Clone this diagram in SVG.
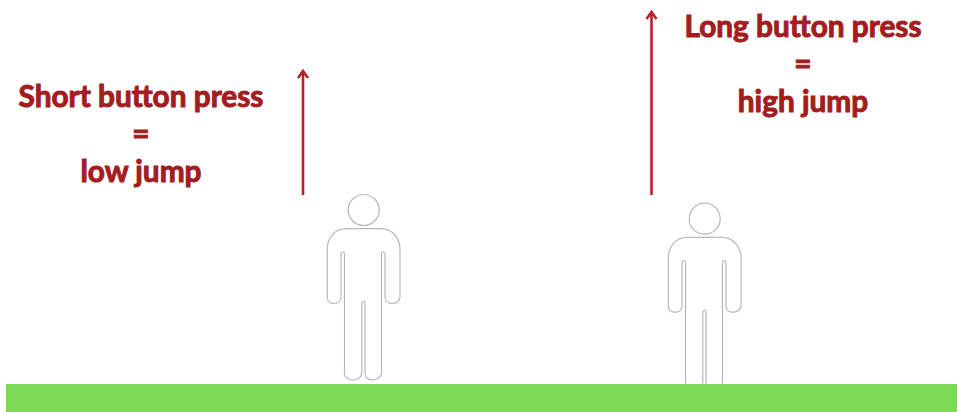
<svg xmlns="http://www.w3.org/2000/svg" width="957" height="412" viewBox="0 0 957 412">
<style>
.lbl{font-family:"Lato","Open Sans",sans-serif;font-weight:700;font-size:29.800px;fill:#a31d1f;stroke:#a31d1f;stroke-width:1;text-anchor:middle}
.fig{fill:#fff;stroke:#b8b8b8;stroke-width:1.200}
.arr{fill:none;stroke:#b3252a;stroke-width:2.600}
</style>
<defs>
<g id="person">
<circle class="fig" cx="363.700" cy="210" r="15.500"/>
<path class="fig" d="M346 228.700H381C392 228.700 400 238 400 249V297C400 301 396 303.500 392 303.500C388 303.500 385 301 385 297V254Q385 252 383 252Q381.500 252 381.500 254V373C381.500 377 377 380 372 380C368 380 365 377 365 373V303Q365 301.700 363.500 301.700Q361.800 301.700 361.800 303V373C361.800 377 358 380 353 380C348 380 344.500 377 344.500 373V254Q344.500 252 342.500 252Q341 252 341 254V297C341 301 338 303.500 334 303.500C330 303.500 327.300 301 327.300 297V249C327.300 238 335 228.700 346 228.700Z"/>
</g>
</defs>
<rect width="957" height="412" fill="#fff"/>
<g id="person-low"><use href="#person"/></g>
<g id="person-high"><use href="#person" x="341" y="8.700"/></g>
<rect id="ground" x="6" y="384" width="951" height="28" fill="#7ed957"/>
<g id="connectors">
<path class="arr" d="M303 195V71M298 78L303 71L308 78"/>
<path class="arr" d="M651.500 195V12M646.500 19L651.500 12L656.500 19"/>
</g>
<g id="label-short">
<text class="lbl" x="141" y="107">Short button press</text>
<text class="lbl" x="141" y="144">=</text>
<text class="lbl" x="141" y="182">low jump</text>
</g>
<g id="label-long">
<text class="lbl" x="803" y="37">Long button press</text>
<text class="lbl" x="803" y="74">=</text>
<text class="lbl" x="803" y="112">high jump</text>
</g>
</svg>
